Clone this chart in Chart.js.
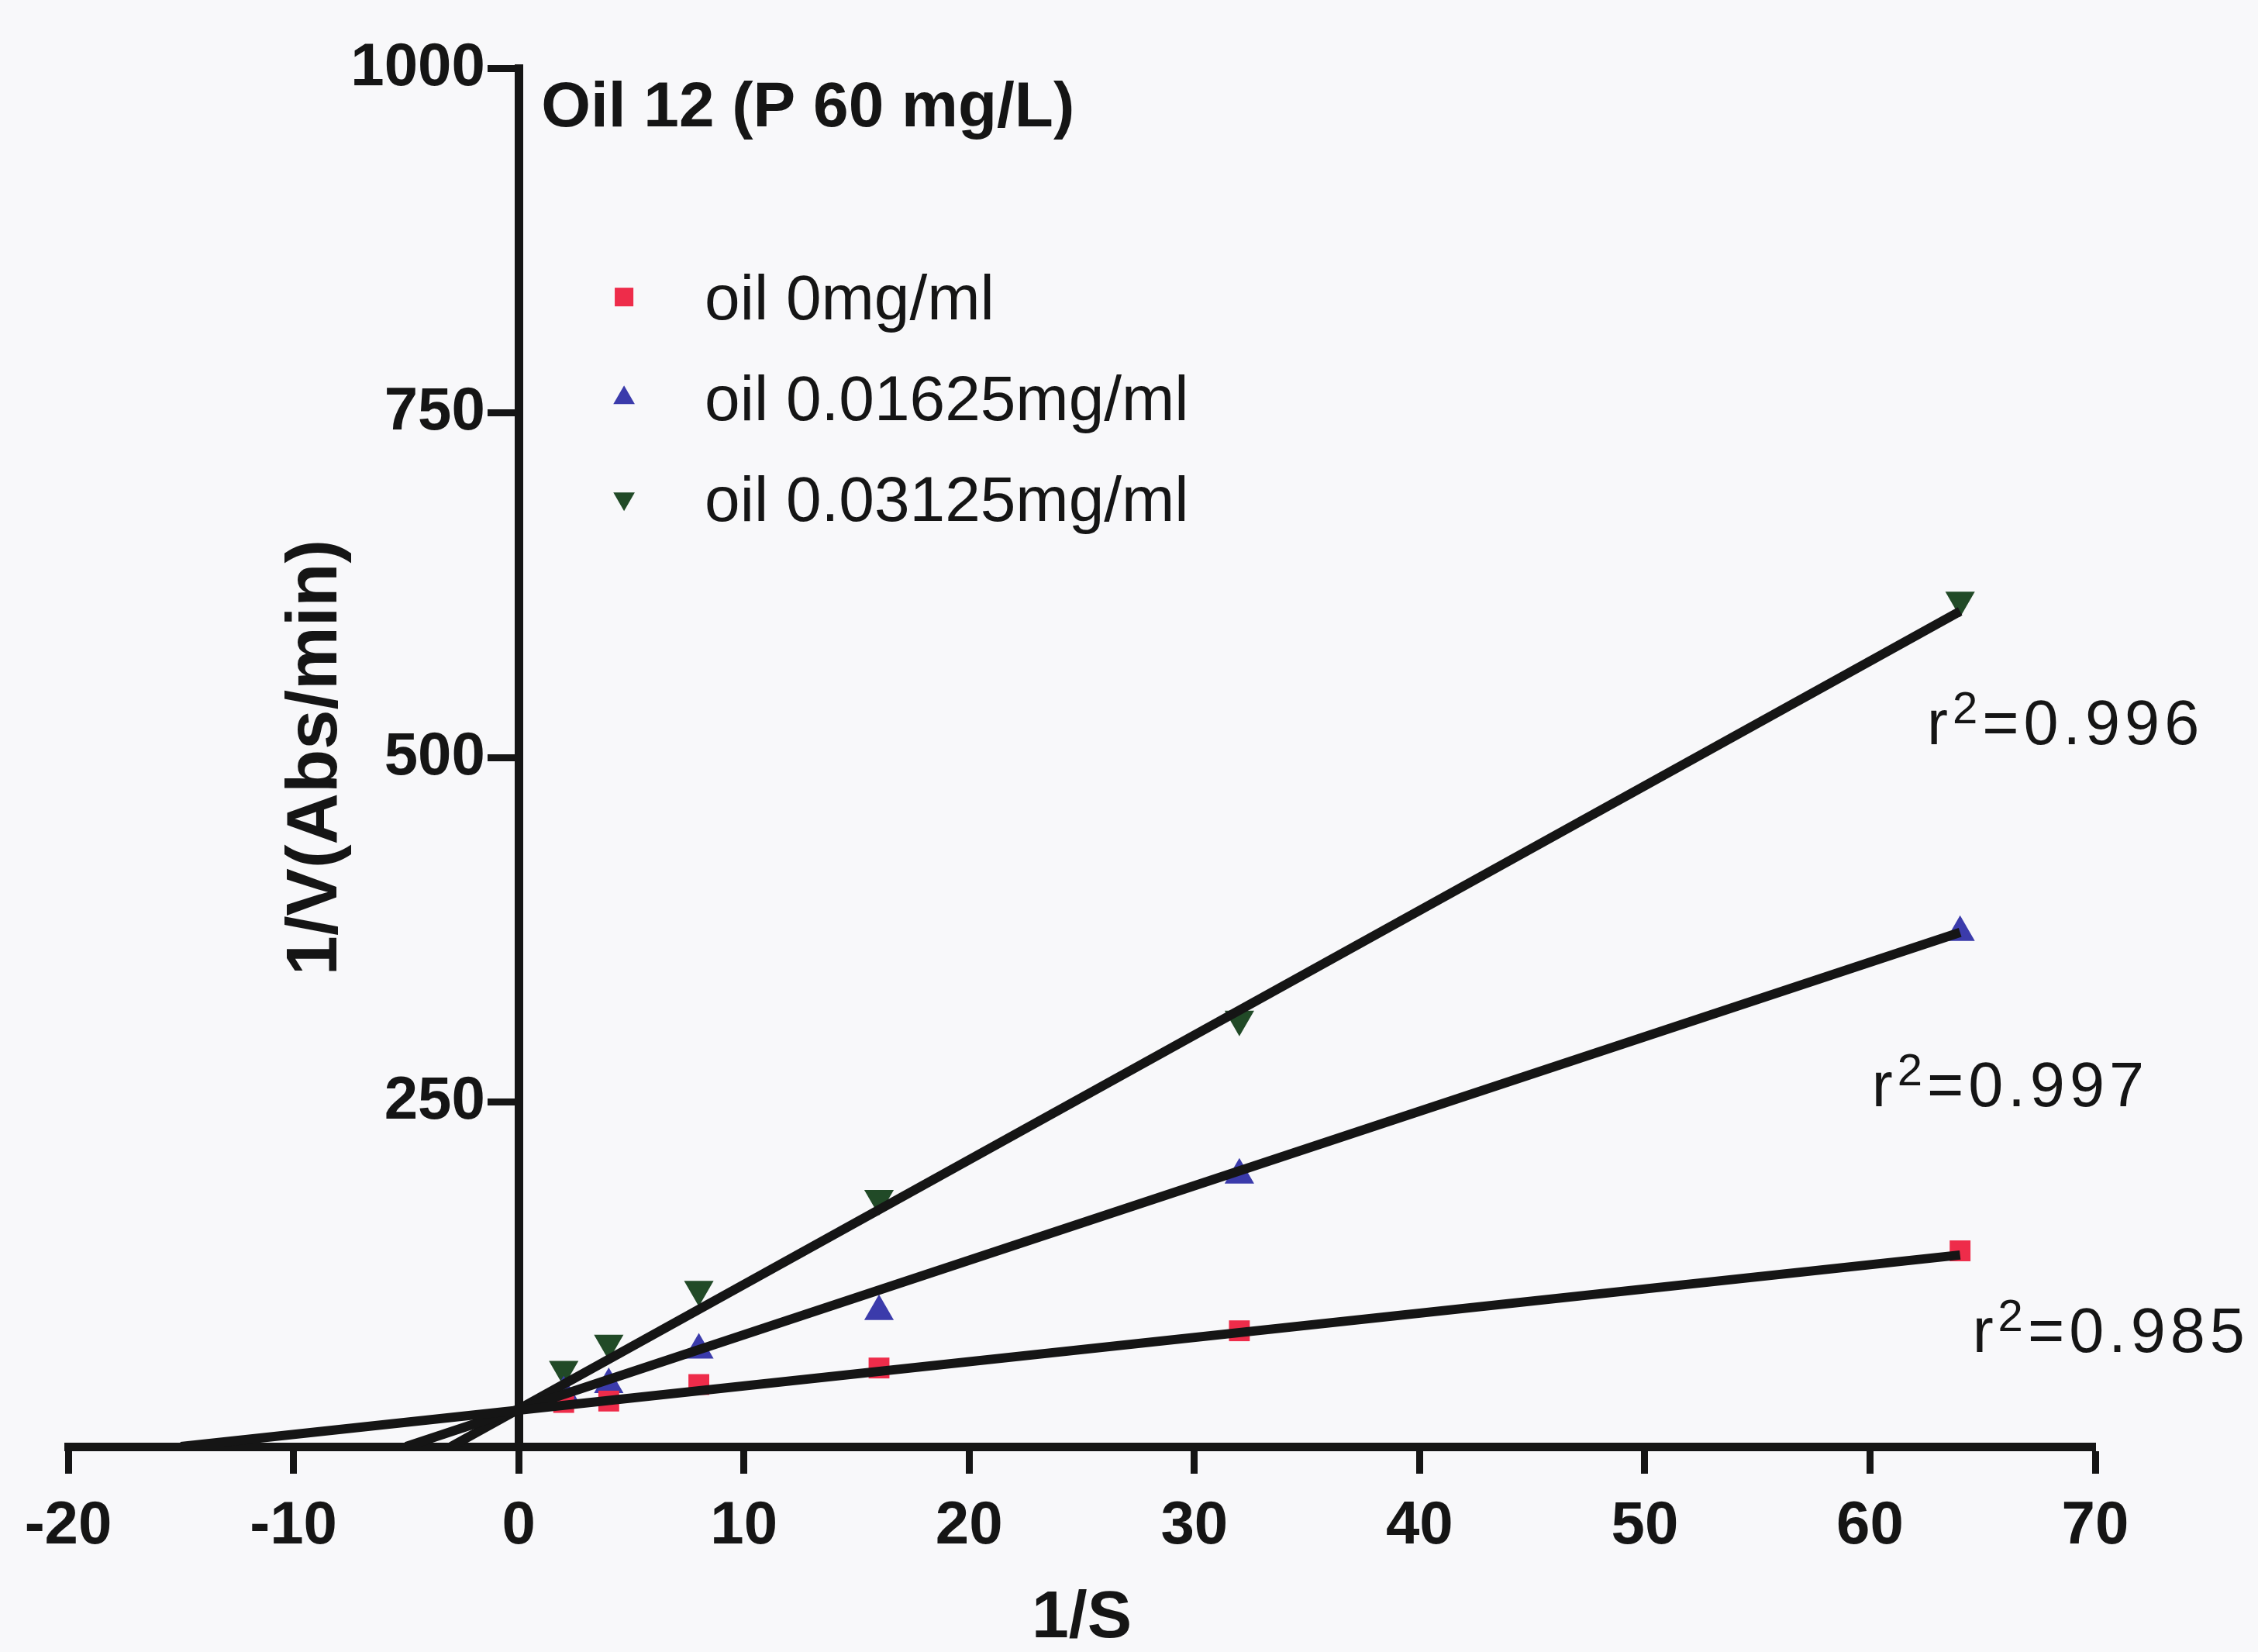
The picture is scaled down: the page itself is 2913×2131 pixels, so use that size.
<!DOCTYPE html>
<html>
<head>
<meta charset="utf-8">
<title>Oil 12 (P 60 mg/L)</title>
<script src="https://cdn.jsdelivr.net/npm/chart.js@4.4.1/dist/chart.umd.min.js"></script>
<style>
  html, body { margin: 0; padding: 0; background: #f8f8fa; }
  #graphique { display: block; }
</style>
</head>
<body>
<canvas id="graphique" width="2913" height="2131"></canvas>
<script>
// 1/S
const substrat = [2, 4, 8, 16, 32, 64];
// 1/V (Abs/min)
const oil0 = [32, 33, 45, 57, 84, 142];
const oil01625 = [39, 45, 70, 98, 197, 373];
const oil03125 = [56, 75, 114, 180, 310, 614];

// droites de régression : de l'axe des x (y = 0) jusqu'à 1/S = 64
const fitStartX = [-15, -5, -3];
const fitEndX = [64, 64, 64];
const fitEndY = [139, 373, 606];

const seriesLabels = ["oil 0mg/ml", "oil 0.01625mg/ml", "oil 0.03125mg/ml"];
const r2Values = ["0.985", "0.997", "0.996"];
const xTicks = [-20, -10, 0, 10, 20, 30, 40, 50, 60, 70];
const yTicks = [250, 500, 750, 1000];
const chartTitle = "Oil 12 (P 60 mg/L)";

const FONT = '"Liberation Sans", Arial, sans-serif';
const INK = "#151515";
const couleurs = ["#ee2c4a", "#3b3bab", "#214a27"];
const styles = ["rect", "triangle", "triangle"];
const rotations = [0, 0, 180];

const datasets = [];
[oil0, oil01625, oil03125].forEach((valeurs, i) => {
    datasets.push({
        type: "scatter",
        label: seriesLabels[i],
        data: substrat.map((s, j) => ({ x: s, y: valeurs[j] })),
        pointStyle: styles[i],
        pointRotation: rotations[i],
        pointRadius: i === 0 ? 19 : 22,
        backgroundColor: couleurs[i],
        pointBackgroundColor: couleurs[i],
        pointBorderWidth: 0,
        order: 1
    });
});
fitStartX.forEach((x0, i) => {
    datasets.push({
        type: "scatter",
        showLine: true,
        data: [{ x: x0, y: 0 }, { x: fitEndX[i], y: fitEndY[i] }],
        borderColor: INK,
        borderWidth: 12,
        pointRadius: 0,
        order: 0
    });
});

// positions des textes, en unités des axes
const r2Pos = [{ x: 64.55, y: 68.6 }, { x: 60.08, y: 247 }, { x: 62.53, y: 509.7 }];

const annotations = {
    id: "annotations",
    afterDraw(chart) {
        const ctx = chart.ctx;
        const x = chart.scales.x, y = chart.scales.y;
        ctx.save();
        ctx.fillStyle = INK;
        ctx.textAlign = "left";
        ctx.textBaseline = "alphabetic";

        // titre
        ctx.font = `bold 82px ${FONT}`;
        ctx.fillText(chartTitle, x.getPixelForValue(1), y.getPixelForValue(958));

        // légende
        const mx = x.getPixelForValue(4.68);
        const tx = x.getPixelForValue(8.26);
        const top = y.getPixelForValue(834);
        for (let i = 0; i < 3; i++) {
            const ds = chart.data.datasets[i];
            const cy = top + i * 130;
            ctx.fillStyle = ds.backgroundColor;
            Chart.helpers.drawPoint(ctx, {
                pointStyle: ds.pointStyle,
                rotation: ds.pointRotation,
                radius: ds.pointStyle === "rect" ? 17 : 16,
                borderWidth: 0
            }, mx, cy);
            ctx.fillStyle = INK;
            ctx.font = `82px ${FONT}`;
            ctx.fillText(ds.label, tx, cy + 29);
        }

        // r²
        r2Values.forEach((val, i) => {
            let px = x.getPixelForValue(r2Pos[i].x);
            const py = y.getPixelForValue(r2Pos[i].y);
            ctx.letterSpacing = "6px";
            ctx.font = `81px ${FONT}`;
            ctx.fillText("r", px, py);
            px += ctx.measureText("r").width;
            ctx.font = `58px ${FONT}`;
            ctx.fillText("2", px, py - 27);
            px += ctx.measureText("2").width;
            ctx.font = `81px ${FONT}`;
            ctx.fillText("=" + val, px, py);
            ctx.letterSpacing = "0px";
        });

        // titre de l'axe des y
        ctx.translate(x.getPixelForValue(-8.98), y.getPixelForValue(500));
        ctx.rotate(-Math.PI / 2);
        ctx.textAlign = "center";
        ctx.textBaseline = "middle";
        ctx.font = `bold 92px ${FONT}`;
        ctx.fillText("1/V(Abs/min)", 0, 0);
        ctx.restore();
    }
};

const axisGrid = {
    display: true,
    drawOnChartArea: false,
    drawTicks: true,
    tickLength: 35,
    tickWidth: 9,
    tickColor: INK
};

const config = {
    type: "scatter",
    data: { datasets: datasets },
    options: {
        responsive: false,
        animation: false,
        devicePixelRatio: 1,
        events: [],
        layout: { padding: { left: 88, right: 210, top: 88, bottom: 0 } },
        plugins: {
            legend: { display: false },
            tooltip: { enabled: false }
        },
        scales: {
            x: {
                type: "linear",
                position: "bottom",
                min: -20,
                max: 70,
                afterBuildTicks: scale => { scale.ticks = xTicks.map(v => ({ value: v })); },
                afterFit: scale => { scale.height = 265; },
                ticks: {
                    color: INK,
                    font: { family: FONT, size: 78, weight: "bold" },
                    padding: 22,
                    maxRotation: 0,
                    autoSkip: false
                },
                grid: axisGrid,
                border: { display: true, width: 11, color: INK },
                title: {
                    display: true,
                    text: "1/S",
                    color: INK,
                    font: { family: FONT, size: 86, weight: "bold", lineHeight: 1 },
                    padding: { top: 0, bottom: 0 }
                }
            },
            y: {
                type: "linear",
                position: { x: 0 },
                min: 0,
                max: 1000,
                afterBuildTicks: scale => { scale.ticks = yTicks.map(v => ({ value: v })); },
                ticks: {
                    color: INK,
                    font: { family: FONT, size: 78, weight: "bold" },
                    // l'axe placé en x = 0 colle les libellés à la ligne : on les décale
                    callback: v => String(v) + "  "
                },
                grid: axisGrid,
                border: { display: true, width: 11, color: INK }
            }
        }
    },
    plugins: [annotations]
};

const graphique = new Chart(document.querySelector("#graphique"), config);
</script>
</body>
</html>
